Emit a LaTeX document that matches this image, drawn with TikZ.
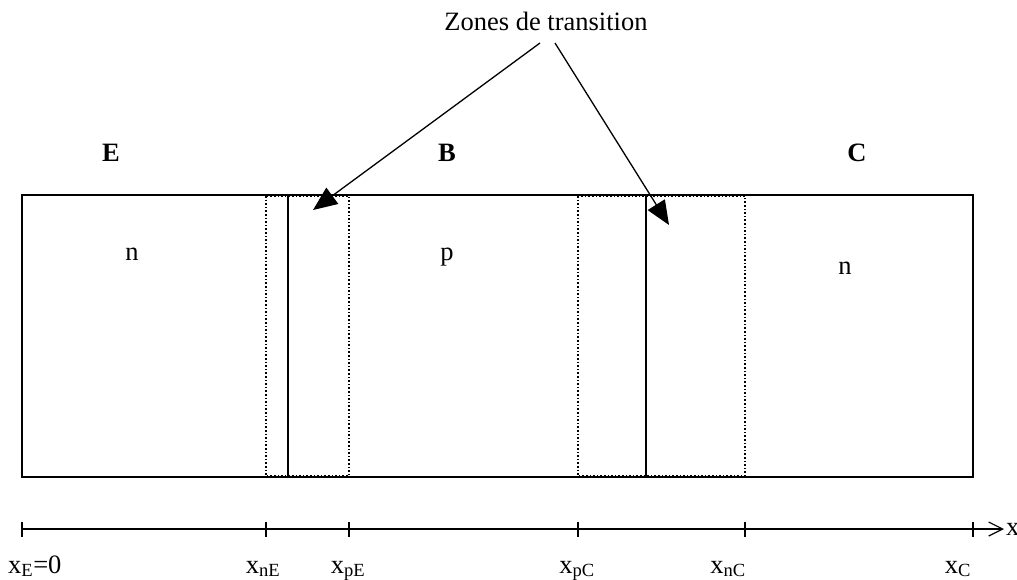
\documentclass[tikz,border=0pt]{standalone}
\usepackage{fontspec}
\setmainfont{Liberation Serif}
\usetikzlibrary{arrows.meta}
\begin{document}
\begin{tikzpicture}[x=1pt,y=-1pt,
  lbl/.style={inner sep=0pt,font=\fontsize{26.5}{30}\selectfont},
  bold/.style={inner sep=0pt,font=\fontsize{26.5}{30}\selectfont\bfseries},
  zone/.style={line width=1.6pt,dash pattern=on 1.6pt off 2pt},
  edge/.style={line width=1.3pt},
  pointer/.style={line width=1.3pt,-{Triangle[length=24pt,width=20pt]}},
  tick/.style={line width=1.2pt}]
\useasboundingbox (0,0) rectangle (1017,579);
% transition zones
\draw[zone] (266,196) rectangle (349,476);
\draw[zone] (578,196) rectangle (745,476);
% main bar
\draw[edge] (22,195) rectangle (973,477);
\draw[edge] (288,195) -- (288,477);
\draw[edge] (646,195) -- (646,477);
% region labels
\node[bold] (E) at (111,153) {E};
\node[bold] (B) at (447,153) {B};
\node[bold] (C) at (857,153) {C};
\node[lbl,anchor=base] (n1) at (132,260) {n};
\node[lbl,anchor=base] (p) at (447,260) {p};
\node[lbl,anchor=base] (n2) at (845,274) {n};
% pointers
\node[lbl,anchor=base] (zt) at (546,30) {Zones de transition};
\coordinate (t1) at (313,210);
\coordinate (t2) at (669,225);
\coordinate (s1) at (540,43);
\coordinate (s2) at (555,43);
\draw[pointer] (s1) -- (t1);
\draw[pointer] (s2) -- (t2);
% axis
\coordinate (a0) at (22,529);
\coordinate (a1) at (266,529);
\coordinate (a2) at (349,529);
\coordinate (a3) at (578,529);
\coordinate (a4) at (745,529);
\coordinate (a5) at (973,529);
\coordinate (aend) at (1004,529);
\draw[line width=1.2pt,-{Straight Barb[length=14pt,width=14pt,line width=1.2pt]}] (a0) -- (aend);
\foreach \c in {a0,a1,a2,a3,a4,a5}
  \draw[tick] ([yshift=-7.5pt]\c) -- ([yshift=7.5pt]\c);
\node[lbl,anchor=base west] (xl) at (1006,535) {x};
\node[lbl,anchor=base west] (lE) at (8,573) {x\textsubscript{E}=0};
\node[lbl,anchor=base] (lnE) at (263,573) {x\textsubscript{nE}};
\node[lbl,anchor=base] (lpE) at (348,573) {x\textsubscript{pE}};
\node[lbl,anchor=base] (lpC) at (577,573) {x\textsubscript{pC}};
\node[lbl,anchor=base] (lnC) at (728,573) {x\textsubscript{nC}};
\node[lbl,anchor=base] (lC) at (958,573) {x\textsubscript{C}};
\end{tikzpicture}
\end{document}
